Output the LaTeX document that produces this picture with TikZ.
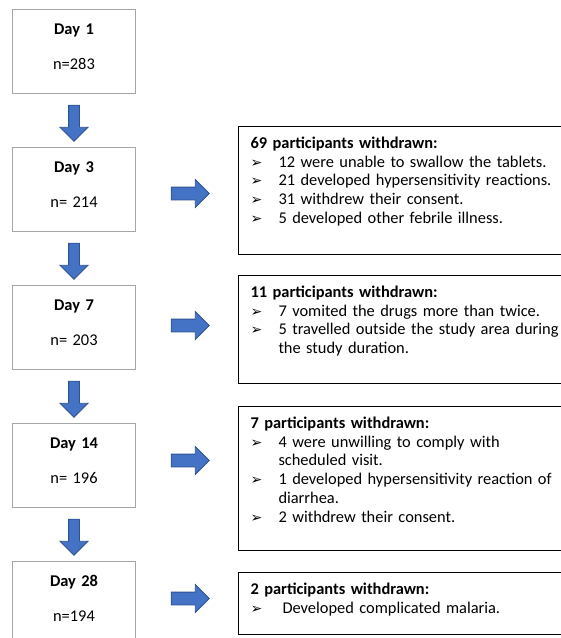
\documentclass[tikz,border=0pt]{standalone}
\usepackage{fontspec}
\setmainfont{Carlito}
\newfontfamily\bulletfont{DejaVu Sans}
\usetikzlibrary{positioning, calc, shapes.arrows}

\definecolor{arrowblue}{HTML}{4472C4}
\definecolor{arrowedge}{HTML}{2F528F}
\definecolor{boxgray}{HTML}{A6A6A6}

\newcommand{\bul}{\makebox[28pt][l]{\bulletfont\fontsize{14pt}{14pt}\selectfont ➢}}
\newcommand{\cont}{\hspace*{28pt}}

\begin{document}
\begin{tikzpicture}[x=1pt, y=1pt,
    daybox/.style={draw=boxgray, line width=1pt, rectangle, text width=123pt, inner sep=0pt, align=center, text height=24.5pt, text depth=59.5pt, font=\fontsize{16.4pt}{18.7pt}\selectfont},
    outbox/.style={draw, line width=1pt, rectangle, text width=330pt, inner xsep=12pt, inner ysep=0pt, align=left, text height=22pt, font=\fontsize{16.4pt}{18.7pt}\selectfont},
    downarrow/.style={single arrow, shape border rotate=270, fill=arrowblue, draw=arrowedge, line width=0.8pt, minimum height=36pt, minimum width=27pt, inner sep=5pt, single arrow head extend=8.5pt},
    sidearrow/.style={single arrow, fill=arrowblue, draw=arrowedge, line width=0.8pt, minimum height=38pt, minimum width=27pt, inner sep=6pt, single arrow head extend=7.5pt}
]

\useasboundingbox (0,0) rectangle (561,-638);
\clip (0,0) rectangle (561,-638);

% follow-up visits
\node[daybox, anchor=north west] (D1) at (12,-9) {\textbf{Day 1}\\[16.3pt]n=283};
\node[daybox] (D3) [below=53pt of D1] {\textbf{Day 3}\\[16.3pt]n= 214};
\node[daybox] (D7) [below=53pt of D3] {\textbf{Day 7}\\[16.3pt]n= 203};
\node[daybox] (D14) [below=53pt of D7] {\textbf{Day 14}\\[16.3pt]n= 196};
\node[daybox] (D28) [below=53pt of D14] {\textbf{Day 28}\\[16.3pt]n=194};

% withdrawals
\node[outbox, anchor=north west, text depth=106pt] (W3) at (238,-126) {\textbf{69 participants withdrawn:}\\
\bul 12 were unable to swallow the tablets.\\
\bul 21 developed hypersensitivity reactions.\\
\bul 31 withdrew their consent.\\
\bul 5 developed other febrile illness.};
\node[outbox, text depth=86pt] (W7) [below=20pt of W3] {\textbf{11 participants withdrawn:}\\
\bul 7 vomited the drugs more than twice.\\
\bul 5 travelled outside the study area during\\
\cont the study duration.};
\node[outbox, text depth=122pt] (W14) [below=22pt of W7] {\textbf{7 participants withdrawn:}\\
\bul 4 were unwilling to comply with\\
\cont scheduled visit.\\
\bul 1 developed hypersensitivity reaction of\\
\cont diarrhea.\\
\bul 2 withdrew their consent.};
\node[outbox, text depth=40pt] (W28) [below=21pt of W14] {\textbf{2 participants withdrawn:}\\
\bul\hspace{4pt}Developed complicated malaria.};

% block arrows
\node[downarrow] (A1) at ($(D1.south)!0.5!(D3.north)$) {};
\node[downarrow] (A3) at ($(D3.south)!0.5!(D7.north)$) {};
\node[downarrow] (A7) at ($(D7.south)!0.5!(D14.north)$) {};
\node[downarrow] (A14) at ($(D14.south)!0.5!(D28.north)$) {};

\node[sidearrow, yshift=-4pt] (B3) at ($(D3.east)!0.5!(D3.east -| W3.west)$) {};
\node[sidearrow, yshift=2pt] (B7) at ($(D7.east)!0.5!(D7.east -| W7.west)$) {};
\node[sidearrow, yshift=5pt] (B14) at ($(D14.east)!0.5!(D14.east -| W14.west)$) {};
\node[sidearrow, yshift=5pt] (B28) at ($(D28.east)!0.5!(D28.east -| W28.west)$) {};

\end{tikzpicture}
\end{document}
